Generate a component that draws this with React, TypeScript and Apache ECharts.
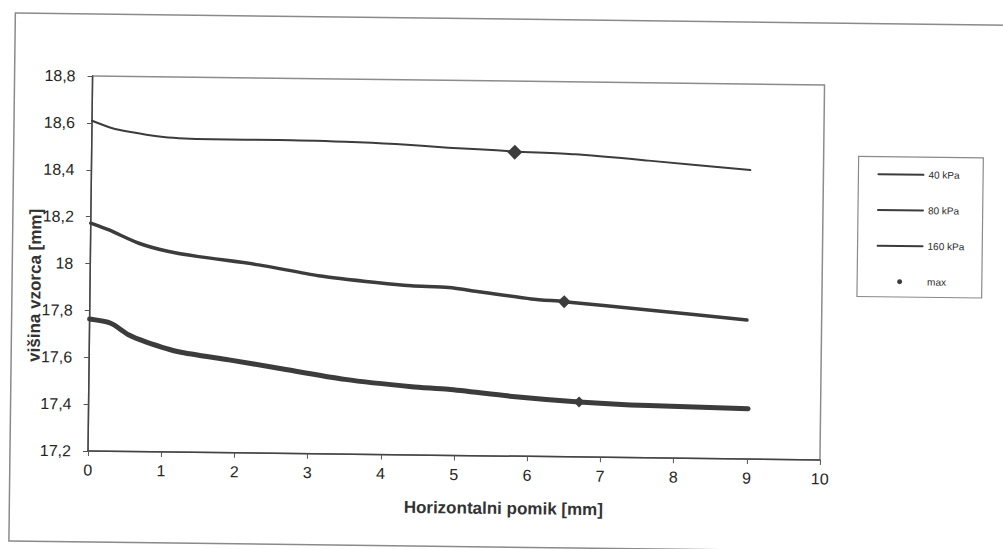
import React, { useEffect, useRef } from "react";
import * as echarts from "echarts";

// ---- data ----
const xTicks = [0, 1, 2, 3, 4, 5, 6, 7, 8, 9, 10];
const yTicks = [17.2, 17.4, 17.6, 17.8, 18.0, 18.2, 18.4, 18.6, 18.8];

const seriesNames = ["40 kPa", "80 kPa", "160 kPa"];
const maxName = "max";

const x40 = [0, 0.28, 0.51, 0.92, 1.19, 1.64, 2.55, 3.46, 4.15, 4.87, 5.28, 5.78, 6.6, 7.61, 9.0];
const y40 = [18.609, 18.578, 18.564, 18.545, 18.539, 18.536, 18.537, 18.533, 18.526, 18.513, 18.508, 18.5, 18.491, 18.468, 18.433];

const x80 = [0, 0.25, 0.66, 1.07, 1.48, 2.3, 3.12, 3.94, 4.39, 4.9, 5.31, 6.03, 6.48, 7.63, 8.98];
const y80 = [18.172, 18.144, 18.089, 18.055, 18.035, 18.003, 17.96, 17.933, 17.922, 17.916, 17.9, 17.872, 17.862, 17.831, 17.793];

const x160 = [0, 0.29, 0.54, 0.77, 1.22, 1.91, 2.59, 3.5, 4.41, 4.91, 5.83, 6.7, 7.65, 9.01];
const y160 = [17.763, 17.746, 17.697, 17.669, 17.628, 17.596, 17.563, 17.519, 17.491, 17.482, 17.454, 17.435, 17.423, 17.415];

const maxX = [5.78, 6.48, 6.7];
const maxY = [18.497, 17.862, 17.435];

const xTitle = "Horizontalni pomik [mm]";
const yTitle = "višina vzorca [mm]";

const zip = (xs: number[], ys: number[]) => xs.map((x, i) => [x, ys[i]]);

const FONT = "'Liberation Sans', Arial, Helvetica, sans-serif";
const INK = "#3c3c3c";

export default function App() {
  const ref = useRef<HTMLDivElement>(null);

  useEffect(() => {
    if (!ref.current) return;
    const chart = echarts.init(ref.current, undefined, { renderer: "svg" });
    const lineWidths = [2, 3.5, 5];
    const lineData = [zip(x40, y40), zip(x80, y80), zip(x160, y160)];
    const diamondSizes = [15, 13, 11];

    chart.setOption({
      animation: false,
      backgroundColor: "#ffffff",
      textStyle: { fontFamily: FONT },
      grid: {
        left: 88,
        top: 76,
        right: 183,
        bottom: 98,
        show: true,
        borderColor: "#8c8c8c",
        borderWidth: 1.5,
      },
      graphic: [
        {
          type: "rect",
          silent: true,
          z: -10,
          shape: { x: 10, y: 14, width: 1010, height: 528 },
          style: { fill: "none", stroke: "#8a8a8a", lineWidth: 1.5 },
        },
        {
          type: "text",
          silent: true,
          x: 33,
          y: 286,
          rotation: Math.PI / 2,
          style: {
            text: yTitle,
            fontSize: 17,
            fontWeight: "bold",
            fontFamily: FONT,
            fill: "#333",
            align: "center",
            verticalAlign: "middle",
          },
        },
      ],
      legend: {
        orient: "vertical",
        left: 855,
        top: 147,
        padding: [11.7, 18, 9.3, 19],
        itemWidth: 45,
        itemHeight: 5,
        itemGap: 23.7,
        selectedMode: false,
        borderColor: "#8a8a8a",
        borderWidth: 1.2,
        backgroundColor: "#fff",
        textStyle: { fontSize: 10, color: "#2a2a2a", lineHeight: 12, fontFamily: FONT },
        lineStyle: { width: 2, color: INK },
        data: [
          ...seriesNames.map((n) => ({ name: n, itemStyle: { opacity: 0 } })),
          { name: maxName, icon: "circle", itemStyle: { color: INK } },
        ],
      },
      xAxis: {
        type: "value",
        min: xTicks[0],
        max: xTicks[xTicks.length - 1],
        interval: 1,
        name: xTitle,
        nameLocation: "middle",
        nameGap: 44,
        nameTextStyle: {
          fontSize: 17,
          fontWeight: "bold",
          color: "#333",
          fontFamily: FONT,
          padding: [0, 0, 0, 100],
        },
        axisLine: { show: true, onZero: false, lineStyle: { color: "#444", width: 1.5 } },
        axisTick: { show: true, length: 5, lineStyle: { color: "#555", width: 1 } },
        axisLabel: { fontSize: 16, color: "#262626", margin: 11, fontFamily: FONT },
        splitLine: { show: false },
      },
      yAxis: {
        type: "value",
        min: yTicks[0],
        max: yTicks[yTicks.length - 1],
        interval: 0.2,
        axisLine: { show: true, onZero: false, lineStyle: { color: "#444", width: 1.5 } },
        axisTick: { show: true, length: 5, lineStyle: { color: "#555", width: 1 } },
        axisLabel: {
          fontSize: 16,
          color: "#262626",
          margin: 17,
          fontFamily: FONT,
          formatter: (v: number) => String(Math.round(v * 10) / 10).replace(".", ","),
        },
        splitLine: { show: false },
      },
      series: [
        ...seriesNames.map((n, i) => ({
          name: n,
          type: "line",
          data: lineData[i],
          symbol: "none",
          smooth: 0.25,
          z: 3,
          lineStyle: { color: INK, width: lineWidths[i], cap: "round", join: "round" },
          itemStyle: { color: INK },
        })),
        {
          name: maxName,
          type: "scatter",
          symbol: "diamond",
          z: 5,
          data: maxX.map((x, i) => ({ value: [x, maxY[i]], symbolSize: diamondSizes[i] })),
          itemStyle: { color: INK, opacity: 1 },
        },
      ],
    });

    return () => chart.dispose();
  }, []);

  return (
    <div
      style={{
        position: "absolute",
        left: 0,
        top: 0,
        width: 1003,
        height: 549,
        transform: "rotate(0.7deg)",
        transformOrigin: "89px 451px",
      }}
    >
      <div ref={ref} style={{ width: 1003, height: 549 }} />
    </div>
  );
}
